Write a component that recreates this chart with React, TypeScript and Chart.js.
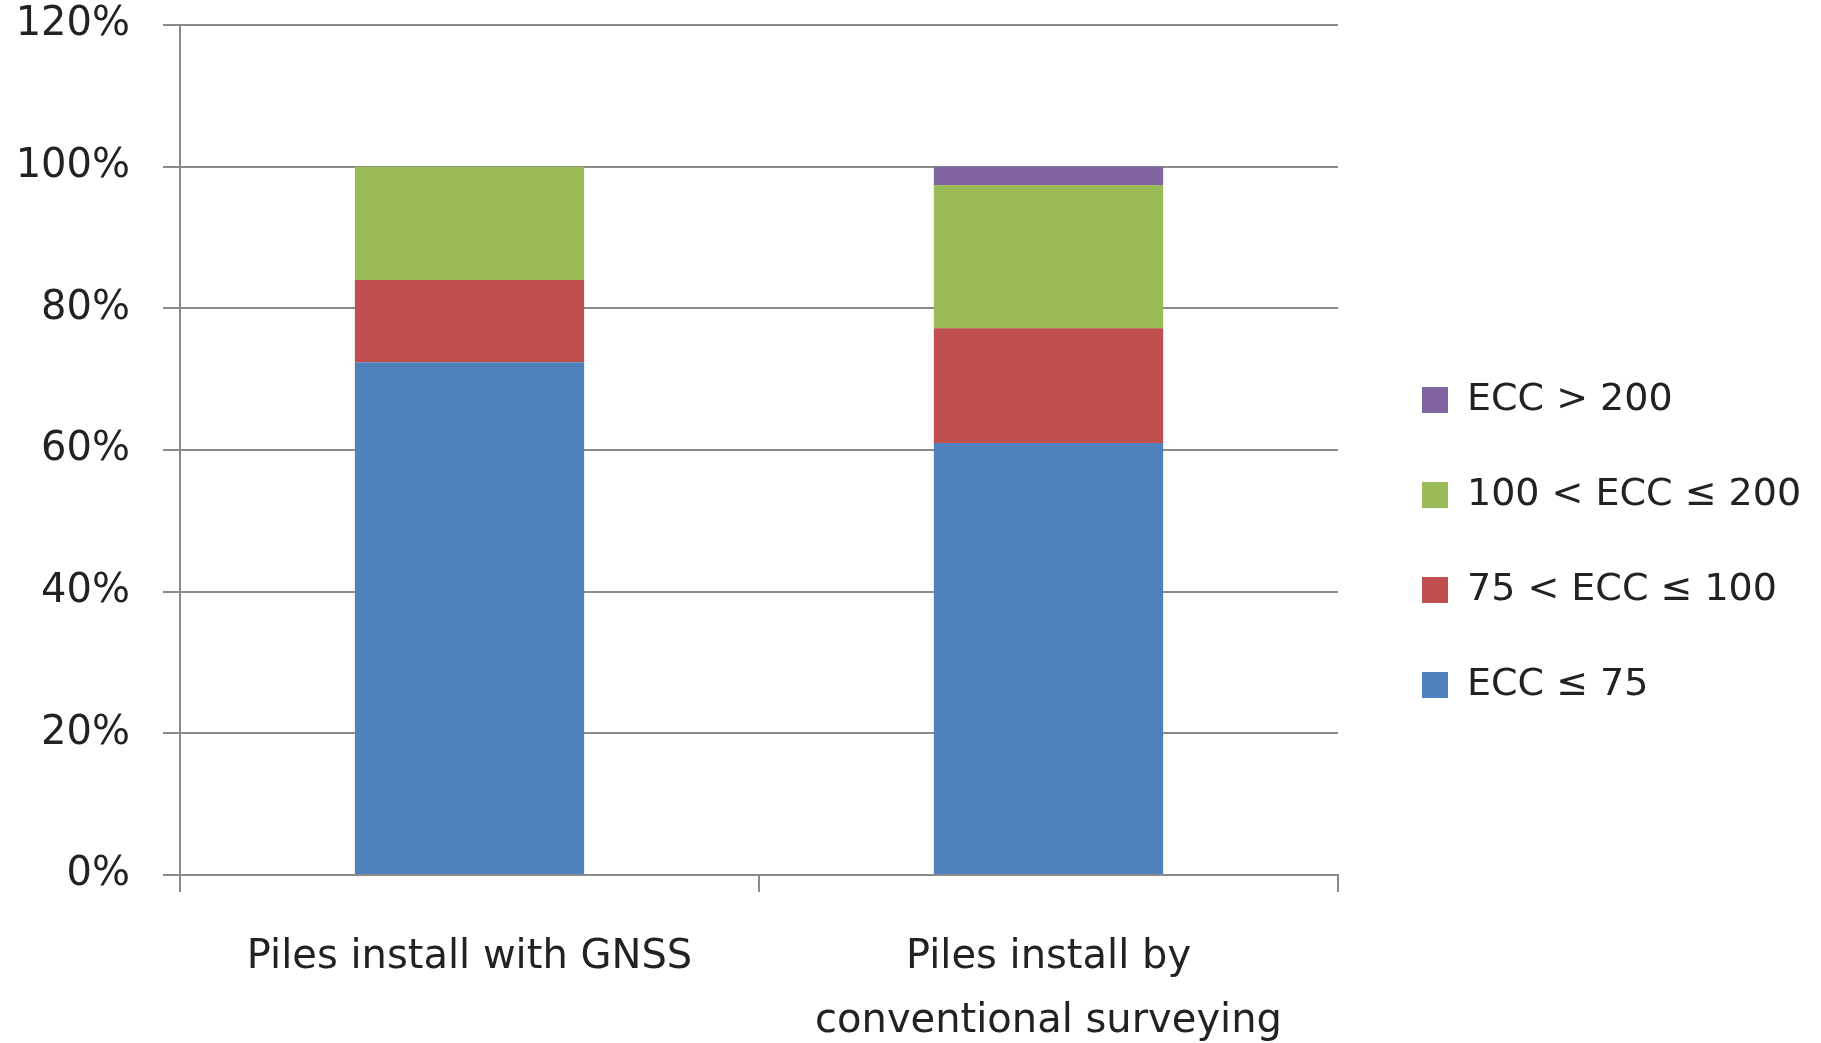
import React, { useEffect, useRef } from "react";
import { Chart, registerables } from "chart.js";

Chart.register(...registerables);

const categories: (string | string[])[] = [
  "Piles install with GNSS",
  ["Piles install by", "conventional surveying"],
];
const seriesNames = ["ECC ≤ 75", "75 < ECC ≤ 100", "100 < ECC ≤ 200", "ECC > 200"];
const ecc75 = [72.4, 61.0];
const ecc75to100 = [11.6, 16.2];
const ecc100to200 = [16.0, 20.2];
const ecc200 = [0, 2.6];
const seriesColors = ["#4F81BD", "#C0504D", "#9BBB59", "#8064A2"];
const yMin = 0;
const yMax = 120;
const yStep = 20;

export default function App() {
  const ref = useRef<HTMLCanvasElement | null>(null);

  useEffect(() => {
    if (!ref.current) return;
    const seriesValues = [ecc75, ecc75to100, ecc100to200, ecc200];
    const gridColor = "#8a8a8a";

    // legend geometry
    const legendFontSize = 38;
    const legendBox = 26;
    const legendPad = 57;
    const legendItemX = 1422;
    const mctx = document.createElement("canvas").getContext("2d")!;
    mctx.font = `${legendFontSize}px DejaVu Sans`;
    const maxText = Math.max(...seriesNames.map((s) => mctx.measureText(s).width));
    const legendW = legendPad + legendBox + legendFontSize / 2 + maxText + 10;
    const padRight = 1821 - (legendItemX - legendPad) - legendW;

    const chart = new Chart(ref.current, {
      type: "bar",
      data: {
        labels: categories,
        datasets: seriesNames.map((name, i) => ({
          label: name,
          data: seriesValues[i],
          backgroundColor: seriesColors[i],
          borderWidth: 0,
          categoryPercentage: 1,
          barPercentage: 0.396,
        })),
      },
      options: {
        responsive: false,
        animation: false,
        layout: { padding: { top: 25, left: 0, right: padRight, bottom: 0 } },
        plugins: {
          tooltip: { enabled: false },
          legend: {
            position: "right",
            fullSize: false,
            reverse: true,
            align: "center",
            maxWidth: 3000,
            title: {
              display: true,
              text: "",
              font: { size: 10, lineHeight: 1 },
              padding: { top: 175, bottom: 0 },
            },
            labels: {
              boxWidth: legendBox,
              boxHeight: legendBox,
              padding: legendPad,
              color: "#222",
              font: { family: "DejaVu Sans", size: legendFontSize },
            },
          },
        },
        scales: {
          x: {
            stacked: true,
            offset: true,
            grid: {
              display: true,
              drawOnChartArea: false,
              drawTicks: true,
              tickLength: 17,
              offset: true,
              color: gridColor,
              lineWidth: 2,
            },
            border: { display: true, color: gridColor, width: 2 },
            ticks: {
              autoSkip: false,
              maxRotation: 0,
              minRotation: 0,
              padding: 34,
              color: "#222",
              font: { family: "DejaVu Sans", size: 40, lineHeight: "64px" },
            },
            afterFit: (s: any) => {
              s.height = 168;
            },
          },
          y: {
            stacked: true,
            min: yMin,
            max: yMax,
            grid: {
              color: gridColor,
              lineWidth: 2,
              drawTicks: true,
              tickLength: 17,
            },
            border: { display: true, color: gridColor, width: 2 },
            ticks: {
              stepSize: yStep,
              padding: 33,
              color: "#222",
              font: { family: "DejaVu Sans", size: 40 },
              callback: (v: any) => `${v}%`,
            },
            afterFit: (s: any) => {
              s.width = 180;
              s.paddingTop = 0;
              s.paddingBottom = 0;
            },
          },
          y2: {
            position: "right",
            display: true,
            grid: { display: false, drawTicks: false },
            border: { display: false },
            ticks: { display: false },
            afterFit: (s: any) => {
              s.width = 27;
              s.paddingTop = 0;
              s.paddingBottom = 0;
            },
          },
        },
      },
    });
    return () => chart.destroy();
  }, []);

  return (
    <div style={{ position: "absolute", left: 0, top: 0, width: 1821, height: 1043, background: "#fff" }}>
      <canvas ref={ref} width={1821} height={1043} style={{ display: "block" }} />
    </div>
  );
}
